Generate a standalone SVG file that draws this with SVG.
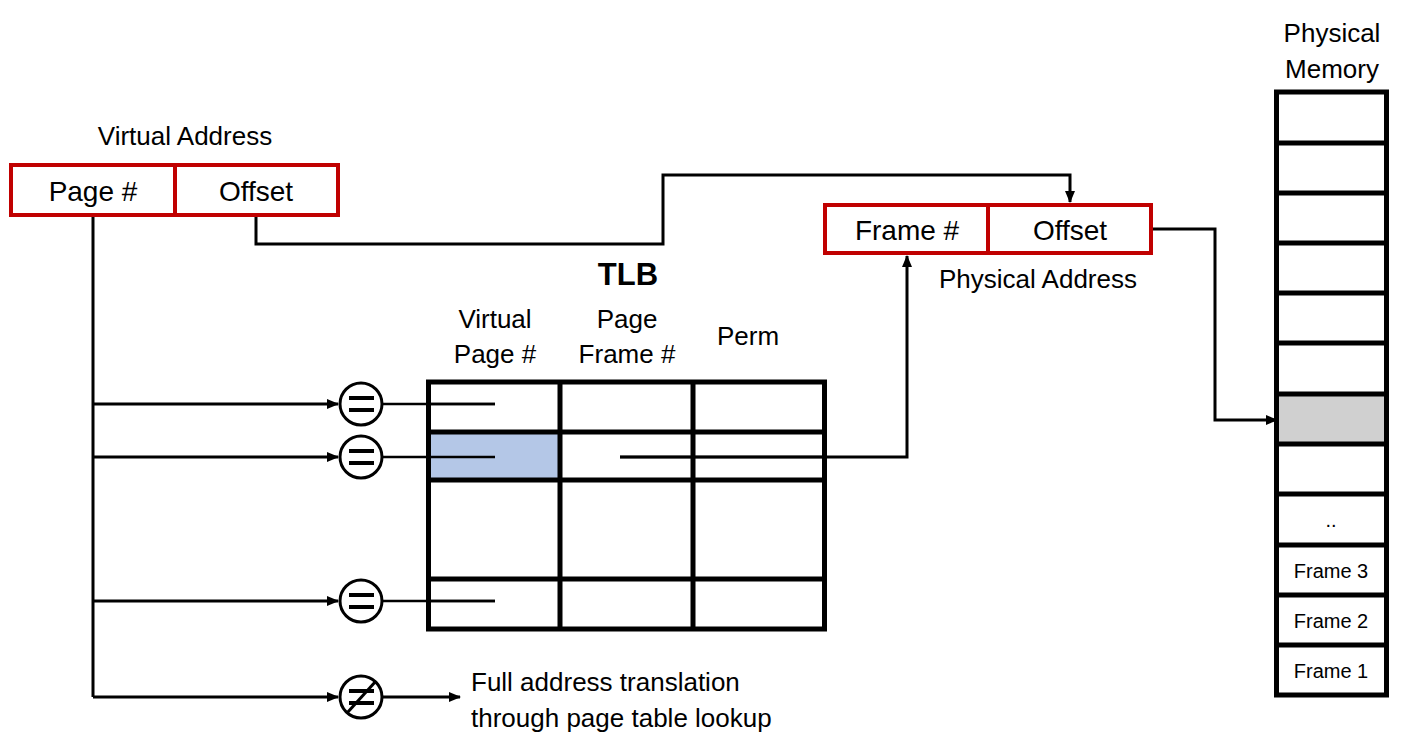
<svg xmlns="http://www.w3.org/2000/svg" width="1425" height="736" viewBox="0 0 1425 736">
<style>
text{font-family:"Liberation Sans","DejaVu Sans",sans-serif;fill:#000}
.lbl{font-size:26px}
.big{font-size:28px}
.sm{font-size:20px}
.red{fill:#fff;stroke:#C00000;stroke-width:4}
.redl{stroke:#C00000;stroke-width:4}
.cell{fill:none;stroke:#000;stroke-width:5}
.wire{fill:none;stroke:#000;stroke-width:3}
.thin{fill:none;stroke:#000;stroke-width:2.5}
.cmp{fill:#fff;stroke:#000;stroke-width:3}
.bar{stroke:#000;stroke-width:4}
</style>
<defs>
<marker id="ah" markerWidth="12" markerHeight="10" refX="11" refY="5" orient="auto" markerUnits="userSpaceOnUse">
<path d="M0,0 L12,5 L0,10 Z" fill="#000"/>
</marker>
</defs>

<g id="connectors">
<path class="wire" d="M93,217 V697"/>
<path class="wire" d="M93,404 H338" marker-end="url(#ah)"/>
<path class="wire" d="M93,457 H338" marker-end="url(#ah)"/>
<path class="wire" d="M93,601 H338" marker-end="url(#ah)"/>
<path class="wire" d="M93,697 H338" marker-end="url(#ah)"/>
<path class="wire" d="M383,697 H460" marker-end="url(#ah)"/>
<path class="thin" d="M383,404 H495"/>
<path class="thin" d="M383,457 H495"/>
<path class="thin" d="M383,601 H495"/>
<path class="wire" d="M256,217 V244 H663 V175 H1070 V202" marker-end="url(#ah)"/>
<path class="wire" d="M620,457 H907 V256" marker-end="url(#ah)"/>
<path class="wire" d="M1153,229 H1215 V420 H1277" marker-end="url(#ah)"/>
</g>

<g id="virtual-address">
<text class="lbl" x="185" y="145" text-anchor="middle">Virtual Address</text>
<rect class="red" x="11" y="165" width="327" height="50"/>
<line class="redl" x1="175" y1="165" x2="175" y2="215"/>
<text class="big" x="93" y="201" text-anchor="middle">Page #</text>
<text class="big" x="256" y="201" text-anchor="middle">Offset</text>
</g>

<g id="physical-address">
<rect class="red" x="825" y="205" width="326" height="48"/>
<line class="redl" x1="988" y1="205" x2="988" y2="253"/>
<text class="big" x="907" y="240" text-anchor="middle">Frame #</text>
<text class="big" x="1070" y="240" text-anchor="middle">Offset</text>
<text class="lbl" x="1038" y="288" text-anchor="middle">Physical Address</text>
</g>

<g id="tlb">
<text x="628" y="285" text-anchor="middle" style="font-size:31px;font-weight:bold">TLB</text>
<text class="lbl" x="495" y="328" text-anchor="middle">Virtual</text>
<text class="lbl" x="495" y="363" text-anchor="middle">Page #</text>
<text class="lbl" x="627" y="328" text-anchor="middle">Page</text>
<text class="lbl" x="627" y="363" text-anchor="middle">Frame #</text>
<text class="lbl" x="748" y="345" text-anchor="middle">Perm</text>
<rect x="431" y="434" width="127" height="44" fill="#B4C7E7"/>
<rect class="cell" x="428.5" y="382" width="396" height="247"/>
<line class="cell" x1="560" y1="382" x2="560" y2="629"/>
<line class="cell" x1="693" y1="382" x2="693" y2="629"/>
<line class="cell" x1="428.5" y1="432" x2="824.5" y2="432"/>
<line class="cell" x1="428.5" y1="480" x2="824.5" y2="480"/>
<line class="cell" x1="428.5" y1="579" x2="824.5" y2="579"/>
<path class="thin" d="M431,404 H495 M431,457 H495 M431,601 H495"/>
<path class="thin" d="M620,457 H822"/>
</g>

<g id="cmp1">
<circle class="cmp" cx="361" cy="404" r="21"/>
<line class="bar" x1="349" y1="398" x2="374" y2="398"/>
<line class="bar" x1="349" y1="410" x2="374" y2="410"/>
</g>
<g id="cmp2">
<circle class="cmp" cx="361" cy="457" r="21"/>
<line class="bar" x1="349" y1="451" x2="374" y2="451"/>
<line class="bar" x1="349" y1="463" x2="374" y2="463"/>
</g>
<g id="cmp3">
<circle class="cmp" cx="361" cy="601" r="21"/>
<line class="bar" x1="349" y1="595" x2="374" y2="595"/>
<line class="bar" x1="349" y1="607" x2="374" y2="607"/>
</g>
<g id="cmp4">
<circle class="cmp" cx="361" cy="697" r="21"/>
<line class="bar" x1="349" y1="691" x2="374" y2="691"/>
<line class="bar" x1="349" y1="703" x2="374" y2="703"/>
<line class="bar" x1="347" y1="713" x2="376" y2="681" style="stroke-width:3"/>
</g>

<g id="full-translation">
<text class="lbl" x="471" y="691">Full address translation</text>
<text class="lbl" x="471" y="727">through page table lookup</text>
</g>

<g id="physical-memory">
<text class="lbl" x="1332" y="42" text-anchor="middle">Physical</text>
<text class="lbl" x="1332" y="78" text-anchor="middle">Memory</text>
<rect x="1279" y="394" width="105" height="50" fill="#D0D0D0"/>
<rect class="cell" x="1276.5" y="92" width="110" height="603"/>
<path class="cell" d="M1276.5,143 H1386.5 M1276.5,193 H1386.5 M1276.5,243 H1386.5 M1276.5,293 H1386.5 M1276.5,343 H1386.5 M1276.5,394 H1386.5 M1276.5,444 H1386.5 M1276.5,494 H1386.5 M1276.5,545 H1386.5 M1276.5,595 H1386.5 M1276.5,645 H1386.5"/>
<text class="sm" x="1331" y="527" text-anchor="middle">..</text>
<text class="sm" x="1331" y="578" text-anchor="middle">Frame 3</text>
<text class="sm" x="1331" y="628" text-anchor="middle">Frame 2</text>
<text class="sm" x="1331" y="678" text-anchor="middle">Frame 1</text>
</g>
</svg>
